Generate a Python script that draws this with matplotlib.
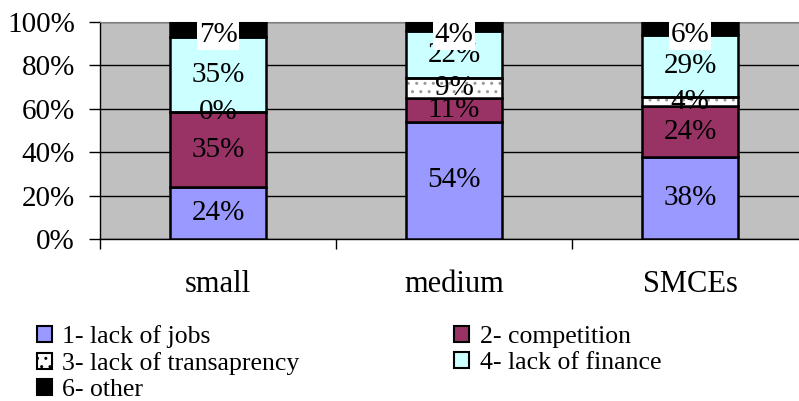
import numpy as np
import matplotlib
matplotlib.use("Agg")
import matplotlib.pyplot as plt
from matplotlib.patches import Patch

# данные с картинки (проценты)
categories = ["small", "medium", "SMCEs"]
series_names = ["1- lack of jobs", "2- competition", "3- lack of transaprency",
                "4- lack of finance", "6- other"]
jobs = [24, 54, 38]
competition = [35, 11, 24]
transparency = [0, 9, 4]
finance = [35, 22, 29]
other = [7, 4, 6]
yticks = [0, 20, 40, 60, 80, 100]

colors = ["#9999FF", "#993366", "#FFFFFF", "#CCFFFF", "#000000"]

plt.rcParams['font.family'] = ['Liberation Serif', 'DejaVu Serif']

data = np.array([jobs, competition, transparency, finance, other], dtype=float)
# нормируем на 100% (как в Excel)
share = data / data.sum(axis=0) * 100

fig = plt.figure(figsize=(7.99, 4.01), dpi=100)
ax = fig.add_axes([0.1252, 0.404, 0.886, 0.541])
ax.set_facecolor("#C0C0C0")

x = np.arange(len(categories))
w = 0.41
bottom = np.zeros(len(categories))
for i in range(len(series_names)):
    if i == 2:
        ax.bar(x, share[i], w, bottom=bottom, color="white", edgecolor="#999999",
               hatch="..", linewidth=0, zorder=3)
        ax.bar(x, share[i], w, bottom=bottom, fill=False, edgecolor="black",
               linewidth=1.8, zorder=4)
    else:
        ax.bar(x, share[i], w, bottom=bottom, color=colors[i], edgecolor="black",
               linewidth=1.8, zorder=3)
    for j in range(len(categories)):
        if i == 4:
            # верхняя подпись прижата к краю области, на белом фоне
            ax.text(x[j], bottom[j] + share[i][j], "%d%%" % data[i][j],
                    ha="center", va="top", fontsize=21, zorder=5,
                    bbox=dict(facecolor="white", edgecolor="none", pad=1.5))
        else:
            ax.text(x[j], bottom[j] + share[i][j] / 2, "%d%%" % data[i][j],
                    ha="center", va="center", fontsize=21, zorder=5)
    bottom += share[i]

ax.set_ylim(0, 100)
ax.set_xlim(-0.5, 2.5)
ax.set_yticks(yticks)
ax.set_yticklabels(["%d%%" % v for v in yticks], fontsize=21)
ax.yaxis.grid(True, color="black", linewidth=1)
ax.set_axisbelow(True)
ax.tick_params(axis="y", length=8, width=1, pad=10)

ax.set_xticks(x)
ax.set_xticklabels(categories, fontsize=22)
ax.set_xticks([-0.5, 0.5, 1.5, 2.5], minor=True)
ax.tick_params(axis="x", which="major", length=0, pad=22)
ax.tick_params(axis="x", which="minor", length=7, width=1)

ax.spines["right"].set_visible(False)
ax.spines["top"].set_color("#808080")
ax.spines["left"].set_linewidth(1)
ax.spines["bottom"].set_linewidth(1)

handles = []
for i in range(len(series_names)):
    if i == 2:
        handles.append(Patch(facecolor="white", edgecolor="black", hatch="..",
                             linewidth=1.5))
    else:
        handles.append(Patch(facecolor=colors[i], edgecolor="black", linewidth=1.5))
order = [0, 2, 4, 1, 3]
fig.legend([handles[k] for k in order], [series_names[k] for k in order],
           loc="upper left", bbox_to_anchor=(0.046, 0.19), ncol=2, frameon=False,
           fontsize=18.5, handlelength=0.6, handleheight=0.6, handletextpad=0.4,
           labelspacing=0.16, columnspacing=6.0, borderaxespad=0, borderpad=0)

fig.savefig("out.png", dpi=100)
